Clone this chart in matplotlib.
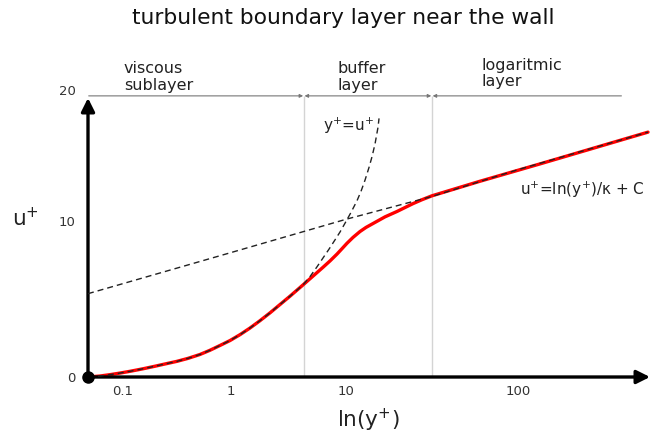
import numpy as np
import matplotlib
matplotlib.use("Agg")
import matplotlib.pyplot as plt

# ---- axis ticks -------------------------------------------------------------
x_ticks = [0.1, 1, 10, 100]
x_tick_labels = ["0.1", "1", "10", "100"]
y_ticks = [0, 10, 20]
y_tick_labels = ["0", "10", "20"]

# ---- velocity profile across the layer (y+, u+) ----------------------------
profile_yplus = [0.0474, 0.0612, 0.0758, 0.0938, 0.1161, 0.1532, 0.1978,
                 0.2448, 0.3162, 0.3994, 0.5164, 0.6391, 0.7909, 0.9789,
                 1.197, 1.463, 1.787, 2.184, 2.668, 3.260, 4.227, 5.164,
                 6.310, 7.261, 8.351, 9.231, 10.13, 10.98, 12.06, 13.07,
                 14.36, 16.86, 19.80, 22.03, 24.52, 27.66, 31.62, 60.11,
                 134.3, 570.0]
profile_uplus = [0.0, 0.063, 0.151, 0.252, 0.365, 0.528, 0.692,
                 0.836, 1.006, 1.195, 1.447, 1.717, 2.025, 2.340,
                 2.717, 3.145, 3.616, 4.119, 4.654, 5.189, 5.912, 6.478,
                 7.044, 7.453, 7.893, 8.239, 8.585, 8.962, 9.340, 9.604,
                 9.855, 10.336, 10.746, 11.045, 11.343, 11.642, 11.940, 13.048,
                 14.37, 16.79]

# viscous-sublayer law  u+ = y+
linear_yplus = [0.0474, 0.0612, 0.0758, 0.0938, 0.1161, 0.1532, 0.1978,
                0.2448, 0.3162, 0.3994, 0.5164, 0.6391, 0.7909, 0.9789,
                1.197, 1.463, 1.787, 2.184, 2.668, 3.260, 4.227, 4.864,
                5.596, 6.310, 7.115, 8.024, 8.868, 9.802, 10.69, 11.59,
                12.22, 12.90, 13.61, 14.17, 14.75, 15.35, 15.56]
linear_uplus = [0.0, 0.063, 0.151, 0.252, 0.365, 0.528, 0.692,
                0.836, 1.006, 1.195, 1.447, 1.717, 2.025, 2.340,
                2.717, 3.145, 3.616, 4.119, 4.654, 5.189, 5.912, 6.447,
                7.075, 7.642, 8.208, 8.805, 9.308, 9.874, 10.672, 11.567,
                12.276, 13.134, 14.104, 14.925, 15.896, 17.164, 17.836]

# log law  u+ = ln(y+)/kappa + C
loglaw_yplus = [0.0474, 1.0, 10.0, 31.6, 100, 570]
loglaw_uplus = [5.35, 7.99, 10.15, 11.89, 13.93, 16.79]

# layer boundaries (y+) and the names of the three layers
layer_bounds = [4.3, 31.6]
layer_names = ["viscous\nsublayer", "buffer\nlayer", "logaritmic\nlayer"]
layer_name_x = [0.102, 8.5, 61]
layer_bar_end = 403


# ---- hand-drawn axis scales ----------------------------------------------------
def piecewise(src, dst):
    src = np.asarray(src, float)
    dst = np.asarray(dst, float)
    lo_slope = (dst[1] - dst[0]) / (src[1] - src[0])
    hi_slope = (dst[-1] - dst[-2]) / (src[-1] - src[-2])

    def f(v):
        v = np.asarray(v, float)
        out = np.interp(v, src, dst)
        out = np.where(v < src[0], dst[0] + (v - src[0]) * lo_slope, out)
        out = np.where(v > src[-1], dst[-1] + (v - src[-1]) * hi_slope, out)
        return out
    return f


decade_pos = [123, 231, 346, 518]          # where each decade sits along x
_xf = piecewise(np.log10(x_ticks), decade_pos)
_xi = piecewise(decade_pos, np.log10(x_ticks))


def x_fwd(v):
    return _xf(np.log10(np.clip(np.asarray(v, float), 1e-12, None)))


def x_inv(p):
    return 10.0 ** _xi(p)


level_pos = [0, 159, 293]                   # where each u+ level sits along y
y_fwd = piecewise(y_ticks, level_pos)
y_inv = piecewise(level_pos, y_ticks)

# ---- figure -------------------------------------------------------------------
W, H = 652, 437
fig = plt.figure(figsize=(W / 100, H / 100), dpi=100)
ax_left, ax_right, ax_bottom, ax_top = 88, 650, 377, 90
ax = fig.add_axes([ax_left / W, 1 - ax_bottom / H,
                   (ax_right - ax_left) / W, (ax_bottom - ax_top) / H])
ax.set_xscale("function", functions=(x_fwd, x_inv))
ax.set_yscale("function", functions=(y_fwd, y_inv))
ax.set_xlim(float(x_inv(ax_left)), float(x_inv(ax_right)))
top_u = float(y_inv(ax_bottom - ax_top))
ax.set_ylim(0, top_u)

for s in ax.spines.values():
    s.set_visible(False)
ax.set_xticks(x_ticks, x_tick_labels)
ax.set_yticks(y_ticks, y_tick_labels)
ax.xaxis.set_minor_locator(matplotlib.ticker.NullLocator())
ax.yaxis.set_minor_locator(matplotlib.ticker.NullLocator())
ax.tick_params(axis="both", length=0, labelsize=9.5, labelcolor="#333333")
ax.tick_params(axis="x", pad=6)
ax.tick_params(axis="y", pad=9)

# layer boundaries
ax.vlines(layer_bounds, 0, top_u, color="#d4d4d4", lw=1.0, zorder=1)

# bar across the top marking each layer
bar_x = [ax.get_xlim()[0]] + layer_bounds + [layer_bar_end]
styles = ["-|>", "<|-|>", "<|-"]
for (a, b), st in zip(zip(bar_x[:-1], bar_x[1:]), styles):
    ax.annotate("", xy=(b, top_u), xytext=(a, top_u),
                arrowprops=dict(arrowstyle=st, color="#777777", lw=0.8,
                                mutation_scale=5, shrinkA=0.5, shrinkB=0.5),
                annotation_clip=False)

for name, xn, dy in zip(layer_names, layer_name_x, [0, 0, 0.3]):
    ax.text(xn, top_u + 0.2 + dy, name, ha="left", va="bottom", fontsize=11.5,
            color="#222222", linespacing=1.15)

# curves
ax.plot(profile_yplus, profile_uplus, color="#ff0000", lw=2.4,
        solid_capstyle="round", solid_joinstyle="round", zorder=3,
        clip_on=False)
dash = (0, (4.3, 2.9))
ax.plot(linear_yplus, linear_uplus, color="#222222", lw=1.0, ls=dash,
        zorder=4, clip_on=False)
ax.plot(loglaw_yplus, loglaw_uplus, color="#222222", lw=1.0, ls=dash,
        zorder=4, clip_on=False)

ax.text(14.6, 17.3, "y$^{+}$=u$^{+}$", ha="right", va="center", fontsize=11,
        color="#222222")
ax.text(103, 12.39, "u$^{+}$=ln(y$^{+}$)/κ + C", ha="left", va="center",
        fontsize=11, color="#222222")

# axes drawn as arrows, with a dot at the origin
arrow = dict(arrowstyle="-|>", color="black", lw=2.4, mutation_scale=20,
             shrinkA=0, shrinkB=0)
ax.annotate("", xy=(1.0, 0), xytext=(0, 0), xycoords="axes fraction",
            arrowprops=arrow, annotation_clip=False)
ax.annotate("", xy=(0, (ax_bottom - 98) / (ax_bottom - ax_top)), xytext=(0, 0),
            xycoords="axes fraction", arrowprops=arrow, annotation_clip=False)
ax.plot(profile_yplus[0], profile_uplus[0], "o", color="black", ms=8,
        zorder=6, clip_on=False)

# axis titles
ax.set_xlabel("ln(y$^{+}$)", fontsize=15.5, color="#222222")
ax.xaxis.label.set_va("center")
ax.xaxis.set_label_coords((368 - ax_left) / (ax_right - ax_left),
                          (ax_bottom - 420) / (ax_bottom - ax_top))
ax.set_ylabel("u$^{+}$", fontsize=15.5, color="#222222", rotation=0)
ax.yaxis.label.set_va("center")
ax.yaxis.label.set_ha("center")
ax.yaxis.set_label_coords((25 - ax_left) / (ax_right - ax_left),
                          (ax_bottom - 218) / (ax_bottom - ax_top))

fig.suptitle("turbulent boundary layer near the wall", x=343 / W, y=1 - 18 / H,
             va="center", fontsize=15.7, color="#111111")

fig.savefig("out.png", dpi=100)
